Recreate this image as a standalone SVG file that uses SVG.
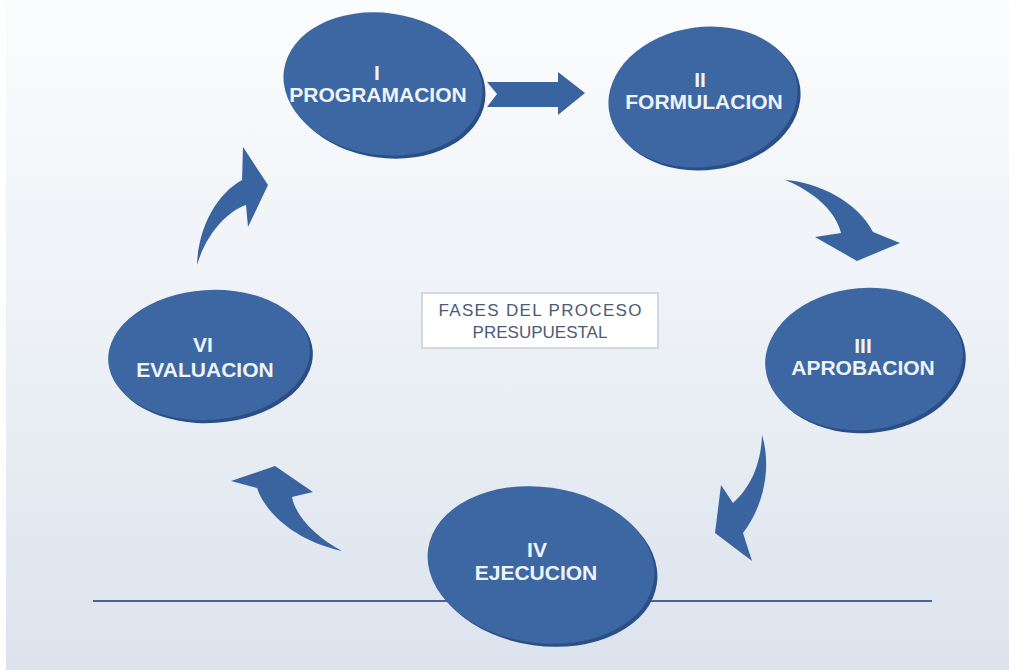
<svg xmlns="http://www.w3.org/2000/svg" width="1009" height="670" viewBox="0 0 1009 670">
<defs>
<linearGradient id="bg" x1="0" y1="0" x2="0" y2="1">
<stop offset="0" stop-color="#fbfcfd"/>
<stop offset="0.5" stop-color="#edf1f6"/>
<stop offset="1" stop-color="#dce3ed"/>
</linearGradient>
<style>
.sh{fill:#2a4f86}
.el{fill:#3c67a2}
.lbl{font-family:"Liberation Sans",Arial,sans-serif;font-weight:bold;font-size:21px;fill:#eef3f9;text-anchor:middle}
.arr{fill:#3a64a0}
.cap{font-family:"Liberation Sans",Arial,sans-serif;font-size:17px;fill:#4a5a7a;text-anchor:middle}
</style>
</defs>
<rect x="0" y="0" width="1009" height="670" fill="url(#bg)"/>
<rect x="0" y="0" width="6" height="670" fill="#ffffff"/>
<line x1="93" y1="601" x2="932" y2="601" stroke="#4a6690" stroke-width="2"/>
<g id="connectors">
<polygon class="arr" points="487,82 558,82 558,72 585,93 558,115 558,107 487,107 497,94"/>
<path class="arr" d="M785,180 C818,182 858,202 873,232 L900,243 L857,261 L815,237 L841,233 C836,212 815,192 785,180 Z"/>
<path class="arr" d="M762,435 C770,460 768,500 743,533 L752,561 L715,533 L721,485 L733,503 C750,488 761,465 762,435 Z"/>
<path class="arr" d="M342,551 C318,538 296,518 292,497 L313,492 L275,466 L231,481 L257,488 C264,510 292,540 342,551 Z"/>
<path class="arr" d="M197,265 C198,230 215,195 242,180 L243,147 L268,185 L248,227 L246,205 C226,212 206,235 197,265 Z"/>
</g>
<g id="caption">
<rect x="422" y="293" width="236" height="55" fill="#ffffff" stroke="#c9ced6" stroke-width="1.5"/>
<text class="cap" x="540" y="316" textLength="203" lengthAdjust="spacing">FASES DEL PROCESO</text>
<text class="cap" x="540" y="338">PRESUPUESTAL</text>
</g>
<g id="n1">
<ellipse class="sh" cx="386" cy="87" rx="100" ry="71" transform="rotate(8 386 87)"/>
<ellipse class="el" cx="383" cy="84" rx="100" ry="71" transform="rotate(8 383 84)"/>
<text class="lbl" x="377" y="80">I</text>
<text class="lbl" x="378" y="102">PROGRAMACION</text>
</g>
<g id="n2">
<ellipse class="sh" cx="706" cy="100" rx="95" ry="70" transform="rotate(-8 706 100)"/>
<ellipse class="el" cx="703" cy="97" rx="95" ry="70" transform="rotate(-8 703 97)"/>
<text class="lbl" x="700" y="87">II</text>
<text class="lbl" x="704" y="109">FORMULACION</text>
</g>
<g id="n3">
<ellipse class="sh" cx="867" cy="362" rx="99" ry="71" transform="rotate(-5 867 362)"/>
<ellipse class="el" cx="864" cy="359" rx="99" ry="71" transform="rotate(-5 864 359)"/>
<text class="lbl" x="863" y="353">III</text>
<text class="lbl" x="863" y="375">APROBACION</text>
</g>
<g id="n4">
<ellipse class="sh" cx="544" cy="568" rx="114" ry="78" transform="rotate(8 544 568)"/>
<ellipse class="el" cx="541" cy="565" rx="114" ry="78" transform="rotate(8 541 565)"/>
<text class="lbl" x="537" y="557">IV</text>
<text class="lbl" x="536" y="580">EJECUCION</text>
</g>
<g id="n6">
<ellipse class="sh" cx="212" cy="358" rx="101" ry="65" transform="rotate(-4 212 358)"/>
<ellipse class="el" cx="209" cy="355" rx="101" ry="65" transform="rotate(-4 209 355)"/>
<text class="lbl" x="203" y="352">VI</text>
<text class="lbl" x="205" y="377">EVALUACION</text>
</g>
</svg>
